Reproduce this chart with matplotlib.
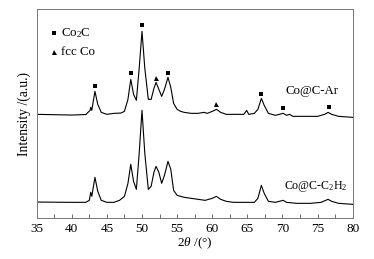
import numpy as np
import matplotlib
matplotlib.use('Agg')
import matplotlib.pyplot as plt

plt.rcParams['font.family'] = ['Liberation Serif', 'DejaVu Serif']
plt.rcParams['mathtext.fontset'] = 'custom'
plt.rcParams['mathtext.rm'] = 'Liberation Serif'
plt.rcParams['mathtext.it'] = 'Liberation Serif:italic'

## DANE ##
x_ar = [35, 40, 42, 42.6, 42.7, 42.85, 43.3, 43.7, 44.2, 45, 46, 47, 47.5, 48.0, 48.4, 48.8,
        49.2, 49.6, 50.0, 50.4, 50.9, 51.3, 51.7, 52.0, 52.4, 52.8, 53.2, 53.7, 54.1, 54.5,
        55, 55.5, 56, 57, 58, 58.8, 59.3, 60, 60.6, 61.2, 62, 63, 64.5, 64.9, 65.2, 66, 66.5,
        67.0, 67.4, 68, 69, 70.1, 70.6, 71.0, 71.5, 73, 75, 76, 76.5, 77, 78, 80]
y_ar = [104, 103.3, 103.8, 108, 111, 108, 127, 114, 106, 104, 105, 105.3, 107, 119, 139, 124,
        118, 150, 187, 150, 119, 119, 130, 136, 129, 122, 129, 141, 131, 115,
        109, 107, 106, 105, 105, 106, 105, 107, 109, 106, 104, 104, 104, 108, 104, 105, 109,
        120, 113, 105, 103, 105, 103, 104, 102, 102, 102, 104, 106, 104, 102, 101]

x_c2h2 = [35, 40, 42, 42.5, 42.7, 42.85, 43.3, 43.7, 44.2, 45, 46, 46.8, 47.5, 48.0, 48.4, 48.8,
          49.2, 49.6, 50.0, 50.4, 50.9, 51.3, 51.7, 52.0, 52.4, 52.8, 53.2, 53.7, 54.1, 54.5,
          55, 56, 57, 58, 59, 60, 60.6, 61.2, 62, 63, 64, 65, 66, 66.5, 67.0, 67.4, 68, 69,
          70.1, 70.6, 72, 74, 75.5, 76.5, 77, 78, 80]
y_c2h2 = [16.3, 16, 16, 18, 26, 22, 41, 27, 18, 16, 16, 18, 22, 35, 54, 37,
          29, 65, 108, 65, 29, 32, 46, 52, 46, 35, 43, 57, 49, 28,
          23, 21, 20, 19, 18, 20, 22, 19, 17, 16, 16, 16, 16, 20, 33, 25, 17, 16,
          18, 16, 15, 15, 16, 19, 17, 15, 14]

# znaczniki faz
co2c_x = [43.3, 48.4, 50.0, 53.7, 67.0, 70.1, 76.6]
co2c_y = [132, 145, 193, 145, 124, 110, 111.5]
fcc_x = [52.0, 60.6]
fcc_y = [140.5, 114]

## WYKRES ##
fig = plt.figure(figsize=(3.74, 2.59), dpi=100)
ax = fig.add_axes([0.098, 0.157, 0.845, 0.808])

ax.plot(x_ar, y_ar, color='black', lw=0.8)
ax.plot(x_c2h2, y_c2h2, color='black', lw=0.8)
ax.plot(co2c_x, co2c_y, 's', color='black', ms=3.2, mew=0)
ax.plot(fcc_x, fcc_y, '^', color='black', ms=3.6, mew=0)

# legenda
ax.plot([37.5], [185], 's', color='black', ms=3.2, mew=0)
ax.text(38.4, 185, r'Co$_2$C', fontsize=9.3, va='center', ha='left')
ax.plot([37.5], [166], '^', color='black', ms=3.6, mew=0)
ax.text(38.4, 166, 'fcc Co', fontsize=9.3, va='center', ha='left')

ax.text(70.4, 127.6, 'Co@C-Ar', fontsize=9.3, va='center', ha='left')
ax.text(70.2, 32, r'Co@C-C$_2$H$_2$', fontsize=8.6, va='center', ha='left')

ax.set_xlim(35, 80)
ax.set_ylim(0, 209.3)
ax.set_xticks(np.arange(35, 81, 5))
ax.set_xticks(np.arange(37.5, 80, 5), minor=True)
ax.set_yticks([])
ax.tick_params(axis='x', which='both', direction='in', length=3, width=0.6,
               labelsize=9.5, pad=3, color='#555555')
for sp in ax.spines.values():
    sp.set_color('#777777')
    sp.set_linewidth(0.7)

ax.set_xlabel(r'$2\theta$ /(°)', fontsize=9.5, labelpad=1)
ax.set_ylabel('Intensity /(a.u.)', fontsize=9.8, labelpad=4)

plt.savefig('out.png', dpi=100)
